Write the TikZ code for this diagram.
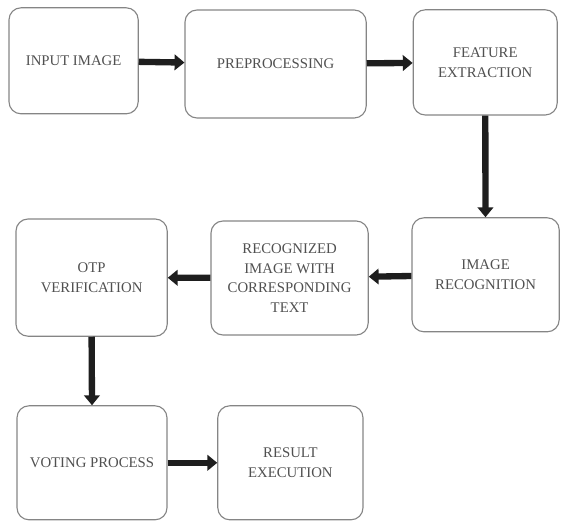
\documentclass[tikz,border=0pt]{standalone}
\usepackage{fontspec}
\setmainfont{Liberation Serif}
\usepackage{xcolor}
\usepackage{tikz}
\usetikzlibrary{calc}
\usetikzlibrary{arrows.meta}

\definecolor{boxline}{HTML}{858585}
\definecolor{boxtext}{HTML}{505050}
\definecolor{flowarrow}{HTML}{1E1E1E}

\tikzset{
    stepbox/.style={draw=boxline, line width=0.8pt, rounded corners=0.3cm,
        align=center, text=boxtext, inner sep=2pt,
        font=\fontsize{10.5}{14}\selectfont},
    flow/.style={draw=flowarrow, line width=4.5pt,
        -{Triangle[length=7pt,width=11pt]}}
}

\begin{document}
\begin{tikzpicture}
\useasboundingbox (0,0) rectangle (14.025,13.05);

% Top row
\node[stepbox, minimum width=3.23cm, minimum height=2.65cm] (input) at (1.84,11.53) {INPUT IMAGE};
\node[stepbox, minimum width=4.53cm, minimum height=2.7cm] (prep) at (6.89,11.45) {PREPROCESSING};
\node[stepbox, minimum width=3.6cm, minimum height=2.63cm] (feat) at (12.13,11.49) {FEATURE\\EXTRACTION};

% Middle row
\node[stepbox, minimum width=3.68cm, minimum height=2.85cm] (imgrec) at (12.14,6.18) {IMAGE\\RECOGNITION};
\node[stepbox, minimum width=3.93cm, minimum height=2.85cm] (recog) at (7.24,6.1) {RECOGNIZED\\IMAGE WITH\\CORRESPONDING\\TEXT};
\node[stepbox, minimum width=3.78cm, minimum height=2.93cm] (otp) at (2.29,6.11) {OTP\\VERIFICATION};

% Bottom row
\node[stepbox, minimum width=3.75cm, minimum height=2.85cm] (vote) at (2.3,1.48) {VOTING PROCESS};
\node[stepbox, minimum width=3.63cm, minimum height=2.85cm] (result) at (7.26,1.48) {RESULT\\EXECUTION};

% Arrows
\draw[flow] (input) -- (prep);
\draw[flow] (prep) -- (feat);
\draw[flow] (feat) -- (imgrec);
\draw[flow] (imgrec) -- (recog);
\draw[flow] (recog) -- (otp);
\draw[flow] (otp.south) -- (vote.north);
\draw[flow] (vote) -- (result);
\end{tikzpicture}
\end{document}
